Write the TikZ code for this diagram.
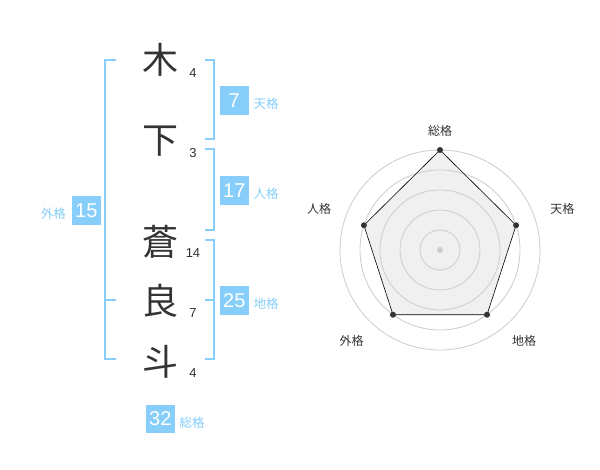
\documentclass[tikz,border=0pt]{standalone}
\usepackage{fontspec}
\setmainfont{Liberation Sans}
\newfontfamily\jp{Noto Sans CJK JP}
\definecolor{sky}{HTML}{87CEFA}
\definecolor{txt}{HTML}{333333}
\definecolor{ring}{HTML}{CCCCCC}
\definecolor{area}{HTML}{F0F0F0}
\tikzset{
  x=1pt, y=-1pt,
  kanji/.style={inner sep=0pt, text=txt, font=\jp\fontsize{36}{36}\selectfont},
  num/.style={inner sep=0pt, text=txt, font=\fontsize{13}{13}\selectfont},
  gbox/.style={inner sep=0pt, minimum size=28.7pt, fill=sky, text=white, font=\fontsize{20}{20}\selectfont},
  glab/.style={inner sep=0pt, text=sky, font=\jp\fontsize{12.5}{12.5}\selectfont},
  br/.style={draw=sky, line width=2pt},
  rlab/.style={inner sep=0pt, text=txt, font=\jp\fontsize{12}{12}\selectfont},
  dot/.style={circle, fill=txt, inner sep=0pt, minimum size=6pt},
}
\begin{document}
\begin{tikzpicture}
\useasboundingbox[fill=white] (0,0) rectangle (600,470);
% characters
\node[kanji] (c1) at (160,60) {木};
\node[kanji] (c2) at (160,141.5) {下};
\node[kanji] (c3) at (160,241.5) {蒼};
\node[kanji] (c4) at (160,301) {良};
\node[kanji] (c5) at (160,361.5) {斗};
\node[num] (n1) at (193,73) {4};
\node[num] (n2) at (193,153.5) {3};
\node[num] (n3) at (193,253.5) {14};
\node[num] (n4) at (193,313) {7};
\node[num] (n5) at (193,373.5) {4};
% brackets
\draw[br] (116,60) -- (105,60) -- (105,359.3) -- (116,359.3);
\draw[br] (105,300) -- (116,300);
\draw[br] (205,60) -- (214.3,60) -- (214.3,139.3) -- (205,139.3);
\draw[br] (205,149.3) -- (214.3,149.3) -- (214.3,230) -- (205,230);
\draw[br] (205,240) -- (214.3,240) -- (214.3,359.3) -- (205,359.3);
\draw[br] (205,300) -- (214.3,300);
% boxes
\node[gbox] (ten) at (234.3,100.3) {7};
\node[glab] (tenl) at (266,104) {天格};
\node[gbox] (jin) at (234.3,190.3) {17};
\node[glab] (jinl) at (266,194) {人格};
\node[gbox] (chi) at (234.3,300.3) {25};
\node[glab] (chil) at (266,304) {地格};
\node[gbox] (gai) at (86.3,210.3) {15};
\node[glab] (gail) at (53.3,214) {外格};
\node[gbox] (sou) at (160.3,419) {32};
\node[glab] (soul) at (192,423) {総格};
% radar
\coordinate (o) at (440,250);
\coordinate (p1) at (440,150);
\coordinate (p2) at (516.08,225.28);
\coordinate (p3) at (487.02,314.72);
\coordinate (p4) at (392.98,314.72);
\coordinate (p5) at (363.92,225.28);
\fill[area] (p1) -- (p2) -- (p3) -- (p4) -- (p5) -- cycle;
\foreach \r in {20,40,60,80,100} \draw[ring, line width=0.8pt] (o) circle[radius=\r];
\draw[black, line width=0.6pt] (p1) -- (p2) -- (p3) -- (p4) -- (p5) -- cycle;
\node[circle, fill=ring, inner sep=0pt, minimum size=6pt] (oc) at (o) {};
\foreach \p in {p1,p2,p3,p4,p5} \node[dot] at (\p) {};
\node[rlab] (r1) at (440,130.5) {総格};
\node[rlab] (r2) at (562.3,209) {天格};
\node[rlab] (r3) at (524,341) {地格};
\node[rlab] (r4) at (351.7,341) {外格};
\node[rlab] (r5) at (319,209) {人格};
\end{tikzpicture}
\end{document}
